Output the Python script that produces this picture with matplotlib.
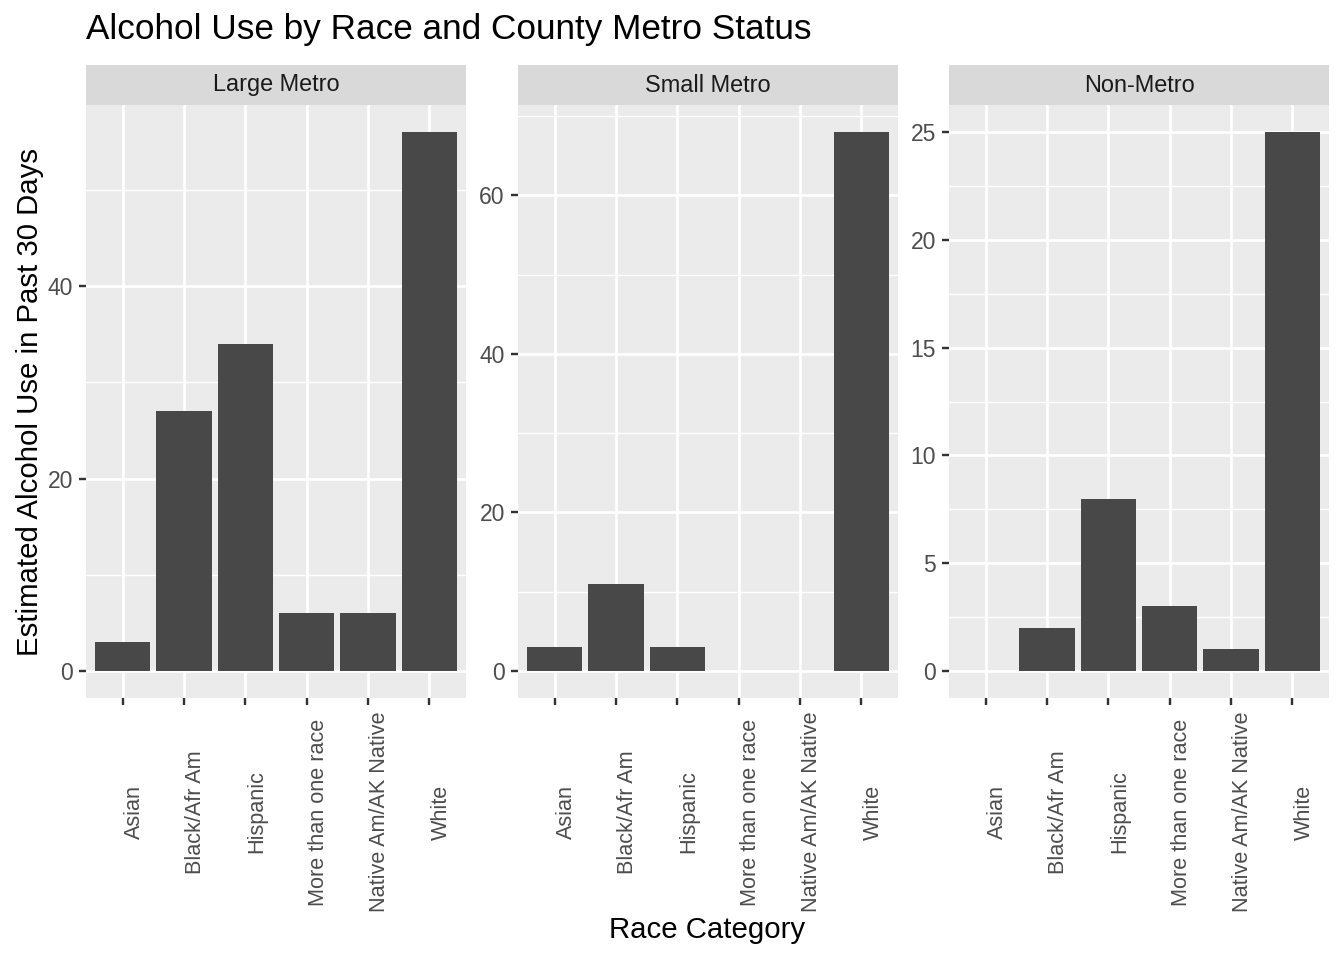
import matplotlib
matplotlib.use("Agg")
import matplotlib.pyplot as plt
import matplotlib.transforms as mtransforms
import numpy as np

plt.rcParams['font.family'] = ['Liberation Sans', 'DejaVu Sans']

races = ["Asian", "Black/Afr Am", "Hispanic", "More than one race",
         "Native Am/AK Native", "White"]
facets = ["Large Metro", "Small Metro", "Non-Metro"]
large_metro = [3, 27, 34, 6, 6, 56]
small_metro = [3, 11, 3, 0, 0, 68]
non_metro = [0, 2, 8, 3, 1, 25]
values = [large_metro, small_metro, non_metro]
major_ticks = [[0, 20, 40], [0, 20, 40, 60], [0, 5, 10, 15, 20, 25]]
minor_ticks = [[10, 30, 50], [10, 30, 50, 70], [2.5, 7.5, 12.5, 17.5, 22.5]]

W, H = 1344, 960
fig = plt.figure(figsize=(7, 5), dpi=192)

panel_x = [(86, 466), (518, 898), (949, 1329)]
panel_top, panel_bot = 105, 698
strip_top = 65

def fx(px):
    return px / W

def fy(py):
    return 1 - py / H

bar_color = "#484848"
for k, (x0, x1) in enumerate(panel_x):
    ax = fig.add_axes([fx(x0), fy(panel_bot), fx(x1) - fx(x0), fy(panel_top) - fy(panel_bot)])
    ax.set_facecolor("#EBEBEB")
    vals = values[k]
    xpos = np.arange(len(races))
    vmax = max(vals)
    ax.set_xlim(-0.6, len(races) - 1 + 0.6)
    ax.set_ylim(-0.05 * vmax, vmax * 1.05)
    for m in minor_ticks[k]:
        ax.axhline(m, color="white", lw=0.5, zorder=1)
    for m in major_ticks[k]:
        ax.axhline(m, color="white", lw=1.0, zorder=1)
    for xp in xpos:
        ax.axvline(xp, color="white", lw=1.0, zorder=1)
    ax.bar(xpos, vals, width=0.9, color=bar_color, zorder=2)
    for s in ax.spines.values():
        s.set_visible(False)
    ax.set_yticks(major_ticks[k])
    ax.set_yticklabels([str(t) for t in major_ticks[k]])
    ax.set_xticks(xpos)
    ax.set_xticklabels([])
    ax.tick_params(axis='both', length=2.75, width=0.9, color="#333333",
                   labelsize=8.6, labelcolor="#4D4D4D", pad=2.2)
    trans = mtransforms.blended_transform_factory(ax.transData, fig.transFigure)
    for xp, lab in zip(xpos, races):
        ax.text(xp + 0.02, fy(812), lab, transform=trans, rotation=90,
                ha='left', va='center', fontsize=8.1, color="#4D4D4D")
    # strip
    sax = fig.add_axes([fx(x0), fy(panel_top), fx(x1) - fx(x0), fy(strip_top) - fy(panel_top)])
    sax.set_facecolor("#D9D9D9")
    sax.set_xticks([]); sax.set_yticks([])
    for s in sax.spines.values():
        s.set_visible(False)
    sax.text(0.5, 0.5, facets[k], ha='center', va='center', fontsize=8.8,
             color="#1A1A1A", transform=sax.transAxes)

fig.text(fx(86), fy(29), "Alcohol Use by Race and County Metro Status",
         ha='left', va='center', fontsize=13.2, color="black")
fig.text(fx(30), fy((panel_top + panel_bot) / 2), "Estimated Alcohol Use in Past 30 Days",
         rotation=90, ha='center', va='center', fontsize=11, color="black")
fig.text(fx((86 + 1329) / 2), fy(930), "Race Category",
         ha='center', va='center', fontsize=11, color="black")

fig.savefig("out.png", dpi=192)
